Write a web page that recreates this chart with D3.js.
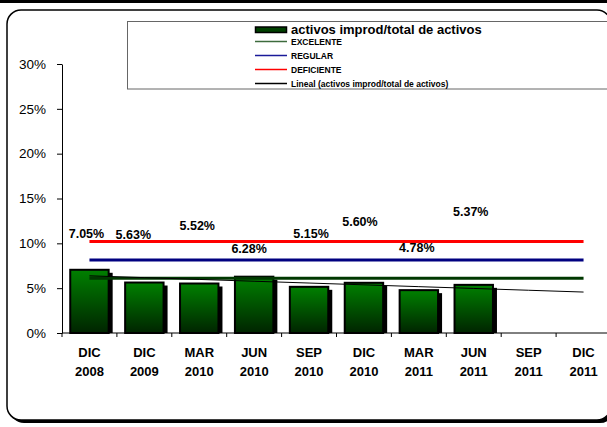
<!DOCTYPE html>
<html>
<head>
<meta charset="utf-8">
<script src="https://cdn.jsdelivr.net/npm/d3@7"></script>
<style>
body { margin: 0; background: #fff; }
svg { display: block; font-family: "Liberation Sans", Arial, sans-serif; }
</style>
</head>
<body>
<div id="chart"></div>
<script>
// data
var categories = ["DIC 2008", "DIC 2009", "MAR 2010", "JUN 2010", "SEP 2010",
                  "DIC 2010", "MAR 2011", "JUN 2011", "SEP 2011", "DIC 2011"];
var activos = [7.05, 5.63, 5.52, 6.28, 5.15, 5.60, 4.78, 5.37, null, null];
var excelente = [6.1, 6.1, 6.1, 6.1, 6.1, 6.1, 6.1, 6.1, 6.1, 6.1];
var regular = [8.15, 8.15, 8.15, 8.15, 8.15, 8.15, 8.15, 8.15, 8.15, 8.15];
var deficiente = [10.2, 10.2, 10.2, 10.2, 10.2, 10.2, 10.2, 10.2, 10.2, 10.2];
var yTicks = [0, 5, 10, 15, 20, 25, 30];

// where the data labels sit (in % units) and their small sideways shifts (px)
var labelLevel = [11.15, 11.0, 11.95, 9.4, 11.05, 12.4, 9.5, 13.5];
var labelShift = [-3, -11, -2, -5, 2, -4, -2, -3];

var width = 607, height = 427;

var svg = d3.select("#chart").append("svg")
    .attr("width", width)
    .attr("height", height);

var defs = svg.append("defs");
var grad = defs.append("linearGradient")
    .attr("id", "barGrad")
    .attr("x1", 0).attr("y1", 0).attr("x2", 0).attr("y2", 1);
grad.append("stop").attr("offset", "0%").attr("stop-color", "#008000");
grad.append("stop").attr("offset", "100%").attr("stop-color", "#002400");

// band left over from the chart above, then the framed chart area
svg.append("rect").attr("x", 0).attr("y", 0).attr("width", width).attr("height", 3).attr("fill", "#000");
svg.append("rect")
    .attr("x", 10).attr("y", 13).attr("width", 604).attr("height", 410)
    .attr("rx", 14).attr("fill", "#000");
svg.append("rect")
    .attr("x", 7).attr("y", 10).attr("width", 604).attr("height", 410)
    .attr("rx", 14).attr("fill", "#fff").attr("stroke", "#000").attr("stroke-width", 1.5);

// scales
var x = d3.scaleBand()
    .domain(categories)
    .range([62, 611])
    .paddingInner(0.3)
    .paddingOuter(0.15);

var y = d3.scaleLinear()
    .domain([0, 30])
    .range([333, 64]);

var cx = function (c) { return x(c) + x.bandwidth() / 2; };

// y axis
var yAxis = svg.append("g")
    .attr("transform", "translate(62,0)")
    .call(d3.axisLeft(y)
        .tickValues(yTicks)
        .tickFormat(function (d) { return d + "%"; })
        .tickSize(5)
        .tickSizeOuter(0)
        .tickPadding(11));
yAxis.select(".domain").attr("stroke", "#000");
yAxis.selectAll("text").attr("font-size", "13.5px").attr("fill", "#000")
    .attr("font-family", "Liberation Sans, Arial, sans-serif");

// x axis: line, ticks at category boundaries, two-line labels
var xg = svg.append("g");
xg.append("line")
    .attr("x1", 62).attr("x2", 611).attr("y1", 333).attr("y2", 333)
    .attr("stroke", "#000");
xg.selectAll(".tick")
    .data(categories)
    .enter().append("line")
    .attr("x1", function (d) { return x(d) - x.step() * x.paddingInner() / 2; })
    .attr("x2", function (d) { return x(d) - x.step() * x.paddingInner() / 2; })
    .attr("y1", 333).attr("y2", 337)
    .attr("stroke", "#000");
var xl = xg.selectAll(".xlab")
    .data(categories)
    .enter().append("text")
    .attr("text-anchor", "middle")
    .attr("font-size", "13px")
    .attr("font-weight", "bold");
xl.append("tspan")
    .attr("x", cx).attr("y", 357)
    .text(function (d) { return d.split(" ")[0]; });
xl.append("tspan")
    .attr("x", cx).attr("y", 376)
    .text(function (d) { return d.split(" ")[1]; });

// bars with drop shadow
var barData = categories.map(function (c, i) { return { cat: c, value: activos[i] }; })
    .filter(function (d) { return d.value != null; });

svg.selectAll(".shadow")
    .data(barData)
    .enter().append("rect")
    .attr("x", function (d) { return x(d.cat) + 4; })
    .attr("y", function (d) { return y(d.value) + 3; })
    .attr("width", x.bandwidth())
    .attr("height", function (d) { return y(0) - y(d.value) - 3; })
    .attr("fill", "#000");

svg.selectAll(".bar")
    .data(barData)
    .enter().append("rect")
    .attr("x", function (d) { return x(d.cat); })
    .attr("y", function (d) { return y(d.value); })
    .attr("width", x.bandwidth())
    .attr("height", function (d) { return y(0) - y(d.value); })
    .attr("fill", "url(#barGrad)")
    .attr("stroke", "#000")
    .attr("stroke-width", 2);

// reference lines
var line = d3.line()
    .x(function (d) { return cx(d.cat); })
    .y(function (d) { return y(d.value); });

function series(arr) {
    return categories.map(function (c, i) { return { cat: c, value: arr[i] }; });
}

[[excelente, "#003800"], [regular, "#000080"], [deficiente, "#ff0000"]].forEach(function (s) {
    svg.append("path")
        .datum(series(s[0]))
        .attr("d", line)
        .attr("fill", "none")
        .attr("stroke", s[1])
        .attr("stroke-width", 3);
});

// linear trend of the bar values
var pts = activos.map(function (v, i) { return [i + 1, v]; })
    .filter(function (p) { return p[1] != null; });
var mx = d3.mean(pts, function (p) { return p[0]; });
var my = d3.mean(pts, function (p) { return p[1]; });
var slope = d3.sum(pts, function (p) { return (p[0] - mx) * (p[1] - my); }) /
            d3.sum(pts, function (p) { return (p[0] - mx) * (p[0] - mx); });
var trend = categories.map(function (c, i) {
    return { cat: c, value: my + slope * (i + 1 - mx) };
});
svg.append("path")
    .datum(trend)
    .attr("d", line)
    .attr("fill", "none")
    .attr("stroke", "#000")
    .attr("stroke-width", 1);

// data labels
svg.selectAll(".vlab")
    .data(barData)
    .enter().append("text")
    .attr("x", function (d, i) { return cx(d.cat) + labelShift[i]; })
    .attr("y", function (d, i) { return y(labelLevel[i]) + 4.5; })
    .attr("text-anchor", "middle")
    .attr("font-size", "12.5px")
    .attr("font-weight", "bold")
    .text(function (d) { return d.value.toFixed(2) + "%"; });

// legend
var lg = svg.append("g");
lg.append("rect")
    .attr("x", 127.5).attr("y", 21.5).attr("width", 500).attr("height", 67.5)
    .attr("fill", "#fff").attr("stroke", "#666");
lg.append("rect")
    .attr("x", 255.5).attr("y", 27).attr("width", 31).attr("height", 5.5)
    .attr("fill", "#004000").attr("stroke", "#000").attr("stroke-width", 1.5);
lg.append("text")
    .attr("x", 291).attr("y", 34)
    .attr("font-size", "13px").attr("font-weight", "bold")
    .text("activos improd/total de activos");

var legendLines = [
    { name: "EXCELENTE", color: "#3d6b3d", y: 41.5 },
    { name: "REGULAR", color: "#1a1a99", y: 55.5 },
    { name: "DEFICIENTE", color: "#ff0000", y: 69.5 },
    { name: "Lineal (activos improd/total de activos)", color: "#000", y: 83.5 }
];
var le = lg.selectAll(".le")
    .data(legendLines)
    .enter().append("g");
le.append("line")
    .attr("x1", 255).attr("x2", 287)
    .attr("y1", function (d) { return d.y; })
    .attr("y2", function (d) { return d.y; })
    .attr("stroke", function (d) { return d.color; })
    .attr("stroke-width", 1.5);
le.append("text")
    .attr("x", 291)
    .attr("y", function (d) { return d.y + 3; })
    .attr("font-size", "8.5px")
    .attr("font-weight", "bold")
    .text(function (d) { return d.name; });
</script>
</body>
</html>
